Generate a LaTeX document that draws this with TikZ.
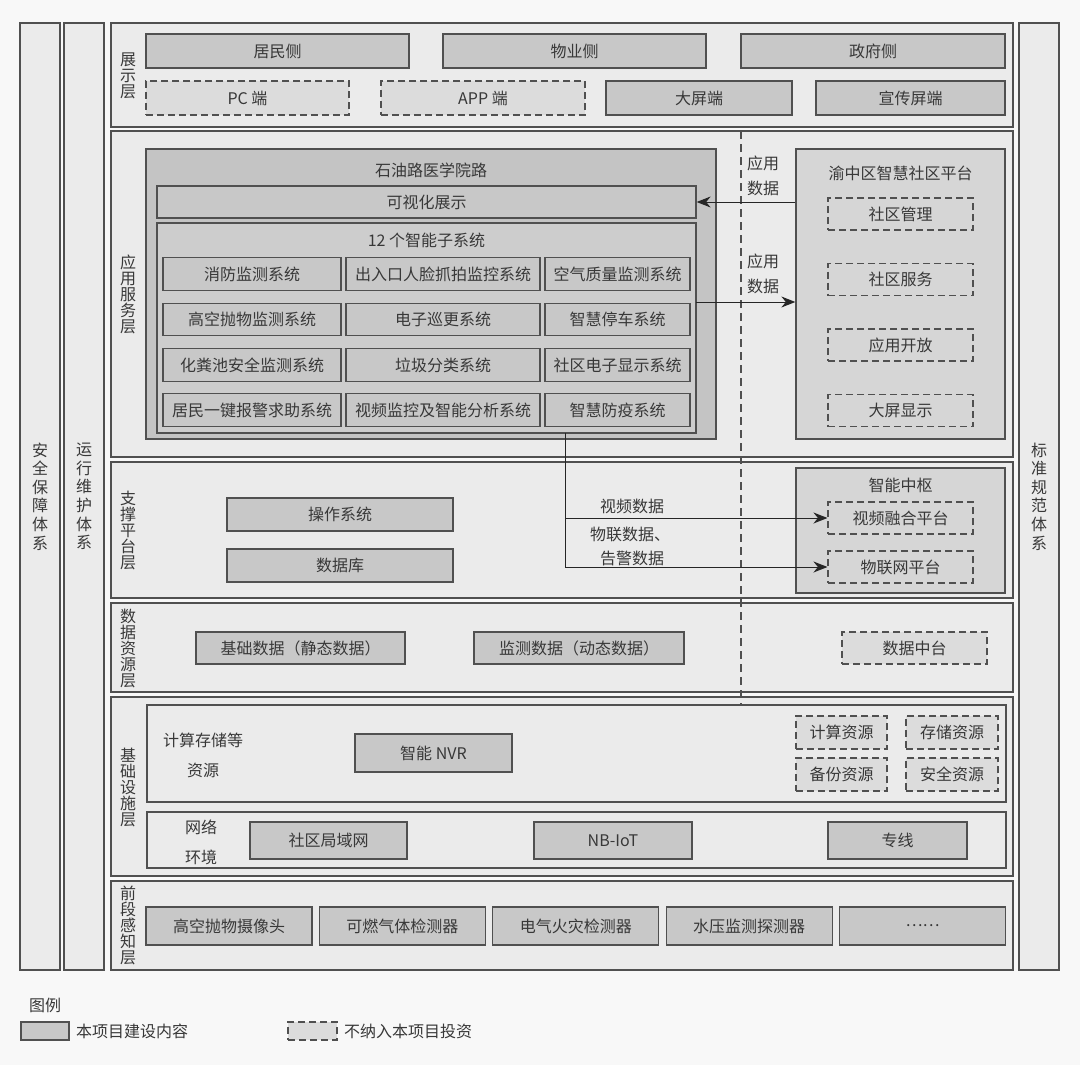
\documentclass[tikz,border=0pt]{standalone}
\usepackage{fontspec}
\setmainfont{Noto Sans CJK SC}
\usetikzlibrary{arrows.meta}
\definecolor{bgc}{HTML}{F8F8F8}
\definecolor{panelc}{HTML}{EBEBEB}
\definecolor{blkc}{HTML}{C8C8C8}
\definecolor{bigc}{HTML}{C4C4C4}
\definecolor{platc}{HTML}{D6D6D6}
\definecolor{dblkc}{HTML}{DCDCDC}
\definecolor{linec}{HTML}{505050}
\definecolor{txtc}{HTML}{383838}
\tikzset{
	every node/.style={font=\fontsize{16}{17}\selectfont, text=txtc},
	panel/.style={draw=linec, fill=panelc, line width=1.1pt, inner sep=0pt},
	blk/.style={draw=linec, fill=blkc, line width=1.3pt, inner sep=0pt},
	dblk/.style={draw=linec, fill=dblkc, line width=1.1pt, dash pattern=on 7pt off 4pt, inner sep=0pt},
	vtxt/.style={align=center, inner sep=0pt, font=\fontsize{16}{16}\selectfont},
	ttxt/.style={align=center, inner sep=0pt, font=\fontsize{16}{18.6}\selectfont},
	arr/.style={-{Stealth[length=14pt, width=11pt, inset=4.5pt]}, line width=1pt, draw=black!85}
}
\begin{document}
\begin{tikzpicture}[x=1pt, y=-1pt]
	\fill[bgc] (0,0) rectangle (1080,1065);
	\useasboundingbox (0,0) rectangle (1080,1065);
	
	% ==========================================
	% SIDE COLUMNS
	% ==========================================
	\node[panel, minimum width=40, minimum height=947, ttxt] (safe) at (40, 496.5) {安\\全\\保\\障\\体\\系};
	\node[panel, minimum width=40, minimum height=947, ttxt] (ops) at (84, 496.5) {运\\行\\维\\护\\体\\系};
	\node[panel, minimum width=40, minimum height=947, ttxt] (std) at (1039, 496.5) {标\\准\\规\\范\\体\\系};
	
	% ==========================================
	% LAYER PANELS
	% ==========================================
	\node[panel, minimum width=902, minimum height=104] (lyShow) at (562, 75) {};
	\node[panel, minimum width=902, minimum height=326] (lyApp) at (562, 294) {};
	\node[panel, minimum width=902, minimum height=136] (lySup) at (562, 530) {};
	\node[panel, minimum width=902, minimum height=89] (lyData) at (562, 647.5) {};
	\node[panel, minimum width=902, minimum height=179] (lyInfra) at (562, 786.5) {};
	\node[panel, minimum width=902, minimum height=89] (lyFront) at (562, 925.5) {};
	
	\node[vtxt] (lblShow) at (128, 75.5) {展\\示\\层};
	\node[vtxt] (lblApp) at (128, 294) {应\\用\\服\\务\\层};
	\node[vtxt] (lblSup) at (128, 530) {支\\撑\\平\\台\\层};
	\node[vtxt] (lblData) at (128, 648) {数\\据\\资\\源\\层};
	\node[vtxt] (lblInfra) at (128, 787) {基\\础\\设\\施\\层};
	\node[vtxt] (lblFront) at (128, 925) {前\\段\\感\\知\\层};
	
	% dashed split line
	\coordinate (splitTop) at (741, 131);
	\coordinate (splitBot) at (741, 802);
	\draw[linec, line width=1.1pt, dash pattern=on 8pt off 5pt] (splitTop) -- (splitBot);
	
	% ==========================================
	% 展示层
	% ==========================================
	\node[blk, minimum width=263, minimum height=34] (resident) at (277.5, 51) {居民侧};
	\node[blk, minimum width=263, minimum height=34] (property) at (574.5, 51) {物业侧};
	\node[blk, minimum width=264, minimum height=34] (gov) at (873, 51) {政府侧};
	\node[dblk, minimum width=203, minimum height=34] (pc) at (247.5, 98) {PC 端};
	\node[dblk, minimum width=204, minimum height=34] (app) at (483, 98) {APP 端};
	\node[blk, minimum width=186, minimum height=34] (bigscr) at (699, 98) {大屏端};
	\node[blk, minimum width=189, minimum height=34] (adscr) at (910.5, 98) {宣传屏端};
	
	% ==========================================
	% 应用服务层
	% ==========================================
	\node[blk, fill=bigc, minimum width=570, minimum height=290] (campus) at (431, 294) {};
	\node[inner sep=0pt] (campusT) at (431, 170) {石油路医学院路};
	\node[blk, minimum width=539, minimum height=32] (vis) at (426.5, 202) {可视化展示};
	\node[blk, fill=blkc!90!white, minimum width=539, minimum height=210] (subsys) at (426.5, 328) {};
	\node[inner sep=0pt] (subsysT) at (426.5, 240) {12 个智能子系统};
	\foreach \r/\y/\a/\b/\c in {
		1/274/消防监测系统/出入口人脸抓拍监控系统/空气质量监测系统,
		2/319.5/高空抛物监测系统/电子巡更系统/智慧停车系统,
		3/365/化粪池安全监测系统/垃圾分类系统/社区电子显示系统,
		4/410/居民一键报警求助系统/视频监控及智能分析系统/智慧防疫系统}{
		\node[blk, minimum width=178, minimum height=32.5] (sub\r a) at (252, \y) {\a};
		\node[blk, minimum width=194, minimum height=32.5] (sub\r b) at (443, \y) {\b};
		\node[blk, minimum width=145, minimum height=32.5] (sub\r c) at (617.5, \y) {\c};
	}
	
	% --- 渝中区智慧社区平台 ---
	\node[blk, fill=platc, minimum width=209, minimum height=290] (ycp) at (900.5, 294) {};
	\node[inner sep=0pt] (ycpT) at (900.5, 173) {渝中区智慧社区平台};
	\foreach \n/\y/\t in {mgmt/214/社区管理, serv/279.5/社区服务, open/345/应用开放, disp/410.5/大屏显示}
		\node[dblk, fill=platc, minimum width=145, minimum height=32] (\n) at (900.5, \y) {\t};
	
	\node[align=center, inner sep=0pt, font=\fontsize{16}{25}\selectfont] (data1) at (763, 175.5) {应用\\数据};
	\node[align=center, inner sep=0pt, font=\fontsize{16}{25}\selectfont] (data2) at (763, 273.5) {应用\\数据};
	\draw[arr] (ycp.west |- vis.east) -- (vis.east);
	\coordinate (appOut) at (696, 302);
	\draw[arr] (appOut) -- (appOut -| ycp.west);
	
	% ==========================================
	% 支撑平台层
	% ==========================================
	\node[blk, minimum width=226, minimum height=33] (os) at (340, 514.5) {操作系统};
	\node[blk, minimum width=226, minimum height=33] (db) at (340, 565.5) {数据库};
	\node[blk, fill=platc, minimum width=209, minimum height=125] (hub) at (900.5, 530.5) {};
	\node[inner sep=0pt] (hubT) at (900.5, 485) {智能中枢};
	\node[dblk, fill=platc, minimum width=145, minimum height=32] (vfp) at (900.5, 518) {视频融合平台};
	\node[dblk, fill=platc, minimum width=145, minimum height=32] (iot) at (900.5, 567) {物联网平台};
	
	\coordinate (tap) at (565, 433);
	\draw[arr] (tap) |- (vfp.west);
	\draw[arr] (tap) |- (iot.west);
	\node[inner sep=0pt] (vdata) at (632, 506) {视频数据};
	\node[inner sep=0pt] (idata) at (630, 534) {物联数据、};
	\node[inner sep=0pt] (adata) at (632, 558) {告警数据};
	
	% ==========================================
	% 数据资源层
	% ==========================================
	\node[blk, minimum width=209, minimum height=32] (basic) at (300.5, 648) {基础数据（静态数据）};
	\node[blk, minimum width=210, minimum height=32] (monit) at (579, 648) {监测数据（动态数据）};
	\node[dblk, minimum width=145, minimum height=32] (dmid) at (914.5, 648) {数据中台};
	
	% ==========================================
	% 基础设施层
	% ==========================================
	\node[panel, minimum width=859, minimum height=97] (cmp) at (576.5, 753.5) {};
	\node[inner sep=0pt] (cmpT1) at (203, 740) {计算存储等};
	\node[inner sep=0pt] (cmpT2) at (203, 770) {资源};
	\node[blk, minimum width=157, minimum height=38] (nvr) at (433.5, 753) {智能 NVR};
	\node[dblk, minimum width=91, minimum height=33] (calc) at (841.5, 732.5) {计算资源};
	\node[dblk, minimum width=92, minimum height=33] (store) at (952, 732.5) {存储资源};
	\node[dblk, minimum width=91, minimum height=33] (backup) at (841.5, 774.5) {备份资源};
	\node[dblk, minimum width=92, minimum height=33] (secu) at (952, 774.5) {安全资源};
	
	\node[panel, minimum width=859, minimum height=56] (net) at (576.5, 840) {};
	\node[inner sep=0pt] (netT1) at (201, 827) {网络};
	\node[inner sep=0pt] (netT2) at (201, 857) {环境};
	\node[blk, minimum width=157, minimum height=37] (lan) at (328.5, 840.5) {社区局域网};
	\node[blk, minimum width=158, minimum height=37] (nbiot) at (613, 840.5) {NB-IoT};
	\node[blk, minimum width=139, minimum height=37] (line) at (897.5, 840.5) {专线};
	
	% ==========================================
	% 前段感知层
	% ==========================================
	\foreach \t [count=\i from 0] in {高空抛物摄像头, 可燃气体检测器, 电气火灾检测器, 水压监测探测器, ……}
		\node[blk, minimum width=166, minimum height=38] (sens\i) at (229+173.4*\i, 926) {\t};
	
	% ==========================================
	% LEGEND
	% ==========================================
	\node[inner sep=0pt] (legT) at (45, 1005) {图例};
	\node[blk, minimum width=48, minimum height=18] (legA) at (45, 1031) {};
	\node[anchor=west, inner sep=0pt] (legAT) at (76, 1031) {本项目建设内容};
	\node[dblk, minimum width=49, minimum height=18] (legB) at (312.5, 1031) {};
	\node[anchor=west, inner sep=0pt] (legBT) at (344, 1031) {不纳入本项目投资};
	
\end{tikzpicture}
\end{document}
